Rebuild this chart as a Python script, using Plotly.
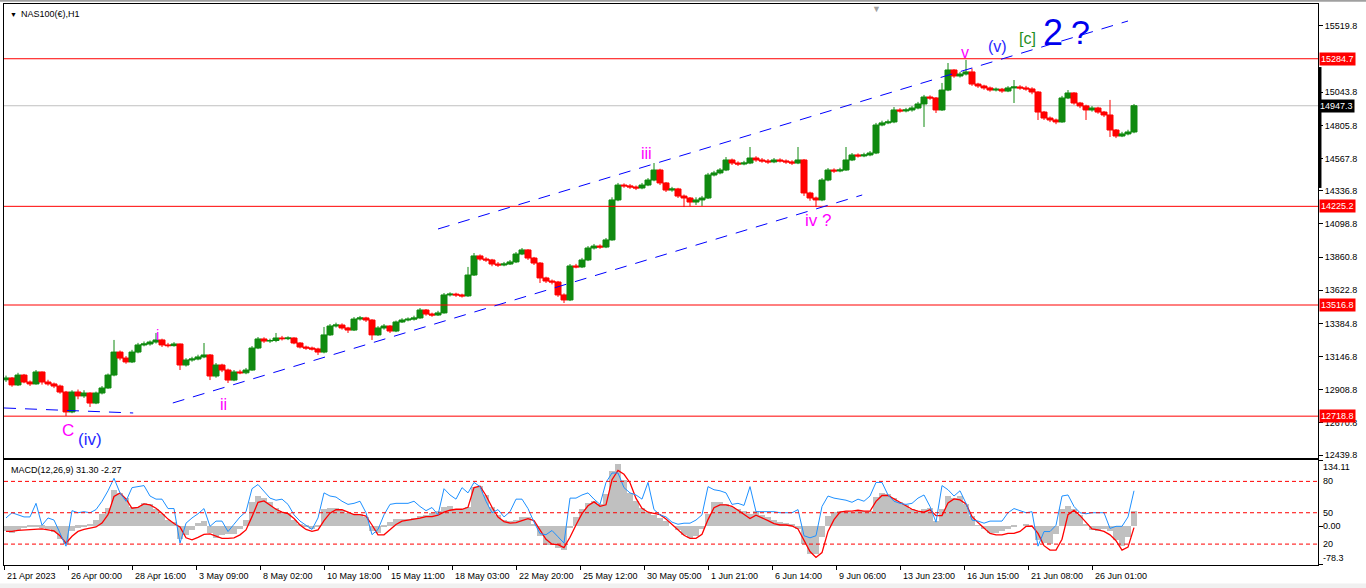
import plotly.graph_objects as go

# NAS100 H1, one candle per 6 hourly bars
symbol_title = "NAS100(€),H1"
macd_title = "MACD(12,26,9) 31.30 -2.27"

opens = [
    12980, 12993, 12943, 13014, 12964, 12950, 13036, 12964, 12950, 12935,
    12892, 12749, 12892, 12864, 12885, 12813, 12885, 12921, 13014, 13179,
    13136, 13108, 13179, 13230, 13237, 13251, 13266, 13230, 13225, 13237,
    13086, 13122, 13129, 13144, 13158, 13007, 13086, 13050, 12978, 13036,
    13030, 13050, 13208, 13273, 13258, 13262, 13280, 13275, 13280, 13244,
    13215, 13208, 13201, 13179, 13302, 13366, 13373, 13352, 13337, 13416,
    13424, 13409, 13302, 13352, 13366, 13330, 13395, 13409, 13415, 13424,
    13481, 13452, 13445, 13460, 13589, 13595, 13589, 13582, 13732, 13869,
    13847, 13840, 13811, 13804, 13811, 13826, 13883, 13912, 13854, 13818,
    13711, 13689, 13682, 13589, 13553, 13797, 13790, 13840, 13926, 13940,
    13933, 13984, 14271, 14378, 14372, 14364, 14357, 14378, 14414, 14486,
    14393, 14342, 14350, 14299, 14285, 14256, 14271, 14285, 14450, 14465,
    14486, 14558, 14536, 14529, 14536, 14572, 14558, 14551, 14544, 14558,
    14551, 14544, 14536, 14558, 14321, 14285, 14271, 14414, 14486, 14479,
    14486, 14558, 14594, 14587, 14594, 14608, 14809, 14824, 14831, 14917,
    14910, 14917, 14931, 14960, 15010, 15003, 14917, 15060, 15204, 15161,
    15175, 15190, 15103, 15089, 15075, 15060, 15066, 15053, 15075, 15082,
    15075, 15068, 15046, 14902, 14859, 14845, 14831, 15003, 15039, 14967,
    14946, 14917, 14931, 14902, 14881, 14773, 14730, 14745, 14759,
]
highs = [
    13010, 13000, 13030, 13022, 12975, 13050, 13040, 12980, 12960, 12945,
    12900, 12905, 12910, 12905, 12890, 12895, 12935, 13025, 13266, 13190,
    13150, 13195, 13245, 13255, 13262, 13316, 13275, 13245, 13250, 13240,
    13135, 13145, 13160, 13244, 13165, 13100, 13095, 13060, 13050, 13052,
    13065, 13222, 13287, 13285, 13275, 13316, 13295, 13292, 13285, 13250,
    13225, 13218, 13210, 13359, 13380, 13390, 13385, 13360, 13430, 13438,
    13432, 13415, 13365, 13380, 13372, 13405, 13422, 13428, 13440, 13495,
    13488, 13462, 13475, 13603, 13608, 13605, 13598, 13790, 13890, 13880,
    13860, 13848, 13825, 13826, 13840, 13897, 13926, 13918, 13862, 13825,
    13720, 13700, 13690, 13600, 13811, 13812, 13855, 13940, 13955, 13952,
    13998, 14290, 14393, 14390, 14385, 14375, 14393, 14428, 14536, 14495,
    14400, 14365, 14358, 14310, 14292, 14290, 14300, 14465, 14480, 14500,
    14579, 14568, 14548, 14552, 14651, 14585, 14572, 14565, 14572, 14570,
    14562, 14556, 14651, 14565, 14330, 14295, 14428, 14500, 14498, 14502,
    14651, 14608, 14605, 14610, 14622, 14824, 14840, 14848, 14938, 14930,
    14932, 14945, 14975, 15025, 15022, 15010, 15111, 15254, 15210, 15190,
    15276, 15215, 15112, 15098, 15085, 15078, 15075, 15088, 15132, 15095,
    15090, 15080, 15052, 14910, 14870, 14855, 15018, 15060, 15045, 14975,
    14955, 14945, 14940, 14910, 14989, 14780, 14760, 14775, 14960,
]
lows = [
    12965, 12930, 12935, 12955, 12935, 12945, 12945, 12938, 12920, 12880,
    12720, 12740, 12840, 12850, 12785, 12805, 12875, 12915, 13005, 13120,
    13095, 13100, 13170, 13220, 13225, 13240, 13215, 13212, 13218, 13050,
    13075, 13110, 13120, 13135, 12978, 12995, 13035, 12957, 12970, 13020,
    13020, 13045, 13200, 13245, 13245, 13250, 13262, 13265, 13235, 13205,
    13195, 13190, 13158, 13170, 13295, 13355, 13340, 13316, 13330, 13405,
    13395, 13266, 13295, 13340, 13316, 13322, 13388, 13400, 13405, 13418,
    13440, 13432, 13438, 13455, 13578, 13575, 13570, 13575, 13725, 13835,
    13826, 13795, 13790, 13795, 13804, 13818, 13875, 13840, 13804, 13675,
    13675, 13665, 13575, 13531, 13545, 13780, 13782, 13832, 13915, 13920,
    13925, 13978, 14262, 14358, 14350, 14342, 14348, 14370, 14405, 14378,
    14328, 14330, 14285, 14220, 14225, 14235, 14228, 14278, 14440, 14455,
    14478, 14522, 14515, 14520, 14528, 14545, 14538, 14530, 14535, 14540,
    14530, 14522, 14528, 14300, 14265, 14220, 14262, 14405, 14465, 14470,
    14480, 14550, 14575, 14578, 14585, 14600, 14800, 14815, 14822, 14898,
    14900, 14905, 14922, 14795, 14990, 14895, 14910, 15052, 15148, 15150,
    15165, 15090, 15075, 15062, 15048, 15050, 15040, 15045, 14967, 15062,
    15055, 15030, 14845, 14845, 14830, 14815, 14825, 14995, 14955, 14930,
    14845, 14905, 14890, 14866, 14723, 14715, 14722, 14735, 14750,
]
closes = [
    12993, 12943, 13014, 12964, 12950, 13036, 12964, 12950, 12935, 12892,
    12749, 12892, 12864, 12885, 12813, 12885, 12921, 13014, 13179, 13136,
    13108, 13179, 13230, 13237, 13251, 13266, 13230, 13225, 13237, 13086,
    13122, 13129, 13144, 13158, 13007, 13086, 13050, 12978, 13036, 13030,
    13050, 13208, 13273, 13258, 13262, 13280, 13275, 13280, 13244, 13215,
    13208, 13201, 13179, 13302, 13366, 13373, 13352, 13337, 13416, 13424,
    13409, 13302, 13352, 13366, 13330, 13395, 13409, 13415, 13424, 13481,
    13452, 13445, 13460, 13589, 13595, 13589, 13582, 13732, 13869, 13847,
    13840, 13811, 13804, 13811, 13826, 13883, 13912, 13854, 13818, 13711,
    13689, 13682, 13589, 13553, 13797, 13790, 13840, 13926, 13940, 13933,
    13984, 14271, 14378, 14372, 14364, 14357, 14378, 14414, 14486, 14393,
    14342, 14350, 14299, 14285, 14256, 14271, 14285, 14450, 14465, 14486,
    14558, 14536, 14529, 14536, 14572, 14558, 14551, 14544, 14558, 14551,
    14544, 14536, 14558, 14321, 14285, 14271, 14414, 14486, 14479, 14486,
    14558, 14594, 14587, 14594, 14608, 14809, 14824, 14831, 14917, 14910,
    14917, 14931, 14960, 15010, 15003, 14917, 15060, 15204, 15161, 15175,
    15190, 15103, 15089, 15075, 15060, 15066, 15053, 15075, 15082, 15075,
    15068, 15046, 14902, 14859, 14845, 14831, 15003, 15039, 14967, 14946,
    14917, 14931, 14902, 14881, 14773, 14730, 14745, 14759, 14947.3,
]

# MACD main (grey histogram) and signal (red), MACD units
macd_main = [
    -10, -14, -8, -5, -3, -3, -4, -6, -12, -27,
    -37, -10, -4, -1, 3, 12, 24, 37, 74, 68,
    56, 39, 39, 46, 44, 35, 24, 13, 8, -27,
    -18, -8, 7, 10, -14, -25, -19, -17, -16, -7,
    12, 49, 60, 56, 48, 37, 29, 26, 13, 3,
    -3, -6, -1, 35, 37, 36, 33, 27, 24, 24,
    18, -10, -14, -3, 9, 14, 14, 14, 17, 20,
    23, 27, 30, 39, 41, 35, 35, 39, 79, 82,
    63, 39, 22, 12, 10, 12, 18, 18, 4, -20,
    -39, -38, -45, -48, -5, 18, 34, 46, 50, 44,
    65, 112, 125, 94, 68, 50, 37, 29, 23, 17,
    10, 0, -9, -18, -24, -21, -7, 24, 48, 48,
    45, 39, 35, 30, 25, 30, 22, 18, 13, 9,
    7, 4, -7, -37, -56, -57, -22, 20, 29, 31,
    30, 29, 33, 31, 31, 58, 68, 65, 56, 48,
    42, 35, 31, 34, 37, 10, 35, 61, 56, 60,
    44, 20, 1, -7, -14, -14, -11, -7, -3, 0,
    3, 0, -29, -35, -37, -17, 34, 41, 35, 22,
    5, -8, -10, -7, -10, -29, -41, -22, 31.30,
]
macd_signal = [
    -10, -10, -8, -7, -7, -6, -5, -7, -9, -19,
    -34, -20, -10, -6, -4, -1, 7, 24, 61, 68,
    56, 37, 39, 46, 44, 37, 27, 15, 6, -1,
    -23, -27, -22, -16, -15, -20, -24, -24, -23, -17,
    -7, 20, 49, 52, 44, 35, 29, 26, 16, 3,
    -6, -10, -7, 12, 27, 34, 34, 29, 24, 24,
    21, 3, -17, -17, -7, 4, 11, 13, 14, 17,
    20, 20, 23, 29, 33, 35, 35, 39, 79, 82,
    63, 39, 19, 10, 7, 8, 12, 16, 12, -7,
    -26, -36, -37, -43, -22, 3, 26, 42, 50, 41,
    44, 95, 114, 106, 89, 57, 37, 29, 27, 24,
    15, 4, -6, -18, -24, -24, -16, 14, 38, 44,
    44, 41, 33, 25, 16, 23, 18, 12, 6, 3,
    3, 1, -5, -27, -51, -63, -53, -10, 14, 29,
    31, 31, 33, 31, 31, 51, 63, 63, 56, 48,
    42, 35, 31, 29, 34, 22, 22, 48, 56, 54,
    46, 20, 8, -4, -14, -17, -17, -14, -14, -10,
    0, 1, -14, -39, -48, -48, -26, 24, 33, 22,
    8, -5, -7, -10, -17, -29, -48, -42, -2.27,
]
# blue oscillator drawn on the 0-100 scale of the 80/50/20 levels
osc_line = [
    45, 50, 48, 46, 46, 59, 38, 45, 43, 30,
    18, 52, 50, 51, 50, 53, 61, 71, 83, 69,
    61, 74, 75, 76, 66, 63, 63, 54, 54, 21,
    40, 45, 49, 54, 37, 42, 42, 32, 39, 46,
    51, 73, 77, 70, 64, 62, 63, 58, 48, 42,
    38, 34, 45, 69, 66, 65, 61, 58, 59, 61,
    50, 29, 34, 48, 58, 59, 59, 59, 61, 56,
    52, 55, 48, 73, 67, 63, 74, 69, 79, 75,
    61, 50, 53, 46, 51, 63, 63, 54, 41, 30,
    29, 33, 27, 21, 64, 64, 67, 69, 63, 58,
    79, 88, 88, 74, 69, 67, 63, 79, 53, 48,
    46, 41, 39, 40, 40, 43, 48, 75, 72, 71,
    69, 58, 59, 57, 75, 51, 51, 51, 51, 50,
    50, 50, 53, 28, 26, 28, 56, 66, 64, 63,
    62, 60, 63, 61, 66, 79, 79, 67, 61, 59,
    58, 59, 64, 67, 56, 41, 76, 72, 66, 71,
    59, 43, 42, 40, 42, 42, 42, 50, 54, 52,
    50, 51, 18, 32, 32, 38, 66, 67, 56, 50,
    49, 50, 50, 50, 35, 37, 37, 46, 71,
]

price_ticks = [15519.8, 15043.8, 14805.8, 14567.8, 14336.8, 14098.8,
               13860.8, 13622.8, 13384.8, 13146.8, 12908.8, 12670.8, 12439.8]
level_prices = [15284.7, 14225.2, 13516.8, 12718.8]
last_price = 14947.3
range_bar = [15225, 14357]  # thick black mark on the price scale
osc_levels = [80, 50, 20]
macd_range = [-78.3, 134.11]
price_range = [12418.3, 15677.7]

time_labels = ["21 Apr 2023", "26 Apr 00:00", "28 Apr 16:00", "3 May 09:00",
               "8 May 02:00", "10 May 18:00", "15 May 11:00", "18 May 03:00",
               "22 May 20:00", "25 May 12:00", "30 May 05:00", "1 Jun 21:00",
               "6 Jun 14:00", "9 Jun 06:00", "13 Jun 23:00", "16 Jun 15:00",
               "21 Jun 08:00", "26 Jun 01:00"]

# channel lines: (candle, price) -> (candle, price)
trend_lines = [
    ((72.0, 14062.5), (187.0, 15555.7)),
    ((27.8, 12813.4), (142.7, 14306.6)),
    ((-0.33, 12777.5), (21.2, 12741.6)),
]

# elliott wave labels: text, candle, price, colour, size
wave_marks = [
    ("C", 10.3, 12619, "#ff00ff", 17),
    ("(iv)", 14.0, 12548, "#2828ff", 17),
    ("i", 25.2, 13302, "#ff00ff", 15),
    ("ii", 36.3, 12806, "#ff00ff", 16),
    ("iii", 106.8, 14608, "#ff00ff", 16),
    ("iv ?", 135.3, 14127, "#ff00ff", 17),
    ("v", 159.8, 15326, "#ff00ff", 16),
    ("(v)", 165.3, 15376, "#2828ff", 16),
    ("[c]", 170.2, 15427, "#1f8f1f", 16),
    ("2", 174.5, 15470, "#0000ee", 36),
    ("?", 179.0, 15477, "#0000ee", 34),
]

main_domain = [0.1907, 1]
macd_domain = [0, 0.1863]

xs = list(range(len(closes)))
x_range = [-1 / 3, 218 + 2 / 3]
# a time label every 64 hourly bars, 6 hourly bars per candle
tick_pos = [(64 * k - 1.7) / 6 for k in range(len(time_labels))]


def price_to_paper(p):
    frac = (p - price_range[0]) / (price_range[1] - price_range[0])
    return main_domain[0] + frac * (main_domain[1] - main_domain[0])


fig = go.Figure()
fig.add_trace(go.Candlestick(
    x=xs, open=opens, high=highs, low=lows, close=closes,
    increasing=dict(line=dict(color="#108a10", width=1), fillcolor="#108a10"),
    decreasing=dict(line=dict(color="#ff0000", width=1), fillcolor="#ff0000"),
    whiskerwidth=0, xaxis="x", yaxis="y", hoverinfo="skip",
))
fig.add_trace(go.Bar(x=xs, y=macd_main, width=1.0, marker=dict(color="#c0c0c0", line_width=0),
                     xaxis="x2", yaxis="y2", hoverinfo="skip"))
fig.add_trace(go.Scatter(x=xs, y=macd_signal, mode="lines", line=dict(color="#ff0000", width=1.3),
                         xaxis="x2", yaxis="y2", hoverinfo="skip"))
fig.add_trace(go.Scatter(x=xs, y=osc_line, mode="lines", line=dict(color="#1e90ff", width=1),
                         xaxis="x2", yaxis="y3", hoverinfo="skip"))

shapes = []
for p in level_prices:
    shapes.append(dict(type="line", xref="paper", x0=0, x1=1, yref="y", y0=p, y1=p,
                       line=dict(color="#ff0000", width=1)))
shapes.append(dict(type="line", xref="paper", x0=0, x1=1, yref="y", y0=last_price, y1=last_price,
                   line=dict(color="#c0c0c0", width=1), layer="below"))
for (xa, ya), (xb, yb) in trend_lines:
    shapes.append(dict(type="line", xref="x", yref="y", x0=xa, y0=ya, x1=xb, y1=yb,
                       line=dict(color="#0000ff", width=1, dash="12px,9px")))
for lv in osc_levels:
    shapes.append(dict(type="line", xref="paper", x0=0, x1=1, yref="y3", y0=lv, y1=lv,
                       line=dict(color="#ff0000", width=1, dash="4px,3px")))
shapes.append(dict(type="line", xref="paper", yref="paper", x0=1.0015, x1=1.0015,
                   y0=price_to_paper(range_bar[0]), y1=price_to_paper(range_bar[1]),
                   line=dict(color="black", width=3)))
# window frame bits
shapes.append(dict(type="rect", xref="paper", yref="paper", x0=-0.01, x1=1.04, y0=-0.045, y1=-0.033,
                   line_width=0, fillcolor="#f0f0f0", layer="below"))
shapes.append(dict(type="line", xref="paper", yref="paper", x0=-0.01, x1=1.04, y0=1.006, y1=1.006,
                   line=dict(color="#a0a0a0", width=2)))

ann = []
for text, xi, yp, col, sz in wave_marks:
    ann.append(dict(x=xi, y=yp, xref="x", yref="y", text=text, showarrow=False,
                    font=dict(color=col, size=sz, family="Liberation Sans")))
for p in level_prices:
    ann.append(dict(x=1, y=p, xref="paper", yref="y", text=f"{p:.1f}", showarrow=False,
                    xanchor="left", xshift=1, bgcolor="#ff0000", borderpad=1,
                    font=dict(color="white", size=9)))
ann.append(dict(x=1, y=last_price, xref="paper", yref="y", text=f"{last_price:.1f}", showarrow=False,
                xanchor="left", xshift=0, bgcolor="black", borderpad=1, font=dict(color="white", size=9)))
for k, lab in enumerate(time_labels):
    ann.append(dict(x=tick_pos[k], y=0, xref="x2", yref="paper", text=lab, showarrow=False,
                    xanchor="left", yanchor="top", xshift=1, yshift=-4, font=dict(size=9)))
ann.append(dict(x=1, y=macd_range[1], xref="paper", yref="y2", text="134.11", showarrow=False,
                xanchor="left", yanchor="top", xshift=3, font=dict(size=9)))
ann.append(dict(x=1, y=0, xref="paper", yref="y2", text="0.00", showarrow=False,
                xanchor="left", xshift=3, font=dict(size=9)))
ann.append(dict(x=1, y=macd_range[0], xref="paper", yref="y2", text="-78.3", showarrow=False,
                xanchor="left", yanchor="bottom", xshift=3, font=dict(size=9)))
for lv in osc_levels:
    ann.append(dict(x=1, y=lv, xref="paper", yref="y3", text=str(lv), showarrow=False,
                    xanchor="left", xshift=3, font=dict(size=9)))
ann.append(dict(x=0, y=1, xref="paper", yref="paper", text="▼", showarrow=False,
                xanchor="left", yanchor="top", xshift=4, yshift=-5, font=dict(size=7)))
ann.append(dict(x=0, y=1, xref="paper", yref="paper", text=symbol_title, showarrow=False,
                xanchor="left", yanchor="top", xshift=15, yshift=-3, font=dict(size=9)))
ann.append(dict(x=0, y=macd_domain[1], xref="paper", yref="paper", text=macd_title, showarrow=False,
                xanchor="left", yanchor="top", xshift=5, yshift=-3, font=dict(size=9)))
ann.append(dict(x=0.669, y=1, xref="paper", yref="paper", text="▼", showarrow=False,
                yanchor="top", yshift=2, font=dict(size=9, color="#a0a0a0")))

axis_line = dict(showline=True, mirror=True, linecolor="black", linewidth=1,
                 showgrid=False, zeroline=False)
fig.update_layout(
    width=1366, height=588,
    margin=dict(l=4, r=48, t=4, b=23),
    paper_bgcolor="white", plot_bgcolor="white",
    showlegend=False, bargap=0, boxgap=0, boxgroupgap=0,
    font=dict(family="Liberation Sans", size=9, color="black"),
    xaxis=dict(domain=[0, 1], range=x_range, anchor="y", showticklabels=False, ticks="",
               rangeslider=dict(visible=False), **axis_line),
    yaxis=dict(domain=main_domain, range=price_range, side="right", anchor="x",
               tickvals=price_ticks, ticktext=[f"{v:.1f}" for v in price_ticks],
               ticks="outside", ticklen=4, tickcolor="black", **axis_line),
    xaxis2=dict(domain=[0, 1], range=x_range, anchor="y2", matches="x", tickvals=tick_pos,
                ticks="outside", ticklen=4, tickcolor="black", showticklabels=False, **axis_line),
    yaxis2=dict(domain=macd_domain, range=macd_range, side="right", anchor="x2",
                tickvals=[macd_range[1], 0, macd_range[0]], ticks="outside", ticklen=4,
                tickcolor="black", showticklabels=False, **axis_line),
    yaxis3=dict(overlaying="y2", anchor="x2", range=[0, 100], visible=False),
    shapes=shapes, annotations=ann,
)

# the page body has a default 8px margin; drop it so the figure fills the window
fig.write_html("out.html", config={"displayModeBar": False},
               post_script="document.body.style.margin = '0';")
